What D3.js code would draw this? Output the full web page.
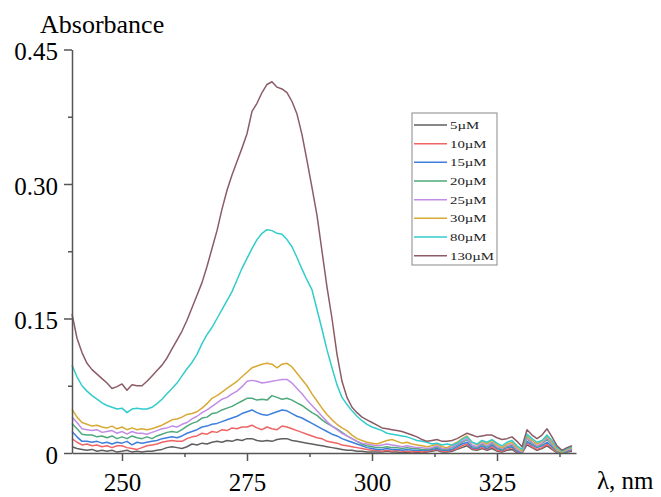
<!DOCTYPE html>
<meta charset="utf-8">
<style>
body { margin: 0; background: white; }
svg { display: block; font-family: "Liberation Serif", "Times New Roman", serif; }
.axis path, .axis line { stroke: #555; stroke-width: 1.5px; }
.axis text { font-size: 25px; fill: #000; font-family: "Liberation Serif", "Times New Roman", serif; }
.series { fill: none; stroke-width: 1.5px; stroke-linejoin: round; }
.legend text { font-size: 11px; fill: #222; }
</style>
<body>
<svg width="661" height="497"></svg>
</body>
<script src="https://cdn.jsdelivr.net/npm/d3@7"></script>
<script>

// wavelength grid of the spectra (nm), 1 nm step
var wavelengths = d3.range(240, 341, 1);

var concentrations = ["5\u00b5M", "10\u00b5M", "15\u00b5M", "20\u00b5M", "25\u00b5M", "30\u00b5M", "80\u00b5M", "130\u00b5M"];
var colors = ["#5f5f5f", "#ef6464", "#3f7fdc", "#4ea97c", "#c28de6", "#d8aa34", "#33cccc", "#8c5c66"];

// absorbance readings, 240..340 nm
var abs5 = [
  0.007,0.005,0.004,0.003,0.004,0.002,0.003,0.002,0.003,0.001,
  0.002,0.003,0.001,0.002,0.001,0.002,0.002,0.003,0.004,0.006,
  0.007,0.006,0.005,0.007,0.010,0.009,0.011,0.010,0.012,0.013,
  0.012,0.014,0.013,0.015,0.014,0.016,0.016,0.014,0.013,0.014,
  0.013,0.015,0.016,0.016,0.014,0.013,0.012,0.011,0.010,0.009,
  0.008,0.007,0.006,0.005,0.004,0.003,0.003,0.002,0.002,0.001,
  0.001,0.001,0.001,0.002,0.001,0.001,0.000,0.001,0.000,0.001,
  0.000,0.001,0.002,0.003,0.001,0.001,0.002,0.004,0.006,0.008,
  0.004,0.003,0.005,0.003,0.005,0.002,0.001,0.003,0.004,0.000,
  0.000,0.009,0.006,0.003,0.005,0.008,0.004,0.000,0.000,0.001,
  0.002];
var abs10 = [
  0.016,0.012,0.009,0.010,0.008,0.009,0.007,0.008,0.006,0.008,
  0.008,0.006,0.005,0.004,0.006,0.008,0.009,0.010,0.012,0.013,
  0.014,0.013,0.013,0.016,0.018,0.019,0.022,0.021,0.024,0.023,
  0.026,0.025,0.028,0.027,0.029,0.029,0.031,0.028,0.026,0.029,
  0.027,0.026,0.030,0.029,0.027,0.025,0.023,0.021,0.019,0.017,
  0.016,0.013,0.012,0.011,0.009,0.008,0.007,0.006,0.005,0.004,
  0.003,0.003,0.002,0.003,0.002,0.003,0.002,0.002,0.001,0.002,
  0.001,0.002,0.003,0.004,0.002,0.002,0.003,0.005,0.008,0.010,
  0.005,0.004,0.006,0.004,0.007,0.003,0.002,0.004,0.006,0.001,
  0.000,0.011,0.007,0.004,0.006,0.010,0.005,0.001,0.000,0.002,
  0.003];
var abs15 = [
  0.024,0.018,0.013,0.013,0.012,0.013,0.011,0.012,0.010,0.012,
  0.011,0.013,0.009,0.012,0.011,0.012,0.013,0.014,0.016,0.017,
  0.018,0.017,0.019,0.022,0.024,0.026,0.029,0.030,0.032,0.033,
  0.035,0.037,0.039,0.041,0.044,0.046,0.048,0.045,0.043,0.042,
  0.044,0.046,0.048,0.047,0.044,0.041,0.039,0.036,0.033,0.030,
  0.027,0.024,0.021,0.019,0.016,0.014,0.012,0.010,0.008,0.006,
  0.005,0.004,0.004,0.005,0.004,0.004,0.003,0.004,0.003,0.003,
  0.003,0.003,0.004,0.005,0.003,0.003,0.004,0.007,0.010,0.012,
  0.006,0.005,0.008,0.005,0.009,0.005,0.003,0.006,0.007,0.002,
  0.000,0.013,0.009,0.006,0.008,0.012,0.007,0.002,0.000,0.002,
  0.004];
var abs20 = [
  0.033,0.027,0.021,0.020,0.020,0.018,0.019,0.017,0.019,0.016,
  0.018,0.016,0.019,0.017,0.016,0.018,0.016,0.019,0.021,0.023,
  0.024,0.023,0.026,0.030,0.033,0.035,0.039,0.040,0.044,0.045,
  0.048,0.050,0.052,0.055,0.058,0.061,0.061,0.059,0.060,0.059,
  0.064,0.062,0.060,0.061,0.059,0.056,0.053,0.049,0.045,0.042,
  0.037,0.033,0.030,0.027,0.023,0.019,0.016,0.013,0.010,0.008,
  0.007,0.006,0.006,0.007,0.006,0.006,0.005,0.006,0.005,0.005,
  0.004,0.004,0.005,0.007,0.004,0.004,0.006,0.009,0.012,0.015,
  0.008,0.006,0.010,0.007,0.011,0.006,0.004,0.007,0.009,0.003,
  0.001,0.016,0.011,0.007,0.010,0.015,0.009,0.002,0.000,0.003,
  0.005];
var abs25 = [
  0.040,0.034,0.027,0.026,0.025,0.026,0.023,0.024,0.025,0.022,
  0.024,0.021,0.024,0.022,0.022,0.021,0.023,0.025,0.027,0.028,
  0.030,0.029,0.032,0.034,0.038,0.041,0.045,0.048,0.052,0.056,
  0.060,0.062,0.066,0.069,0.074,0.080,0.081,0.080,0.078,0.079,
  0.080,0.081,0.082,0.082,0.078,0.072,0.066,0.059,0.053,0.047,
  0.041,0.035,0.030,0.026,0.022,0.019,0.016,0.013,0.011,0.010,
  0.009,0.008,0.009,0.010,0.009,0.008,0.007,0.008,0.007,0.006,
  0.006,0.005,0.006,0.008,0.005,0.005,0.007,0.010,0.013,0.016,
  0.009,0.007,0.011,0.008,0.012,0.007,0.005,0.008,0.010,0.004,
  0.001,0.017,0.012,0.008,0.011,0.017,0.010,0.003,0.001,0.003,
  0.005];
var abs30 = [
  0.049,0.040,0.034,0.032,0.030,0.031,0.029,0.028,0.030,0.027,
  0.029,0.026,0.028,0.026,0.027,0.026,0.027,0.029,0.031,0.034,
  0.037,0.038,0.040,0.043,0.044,0.046,0.050,0.055,0.061,0.064,
  0.068,0.072,0.076,0.080,0.085,0.090,0.095,0.097,0.099,0.100,
  0.099,0.095,0.099,0.100,0.096,0.089,0.082,0.075,0.066,0.058,
  0.050,0.043,0.037,0.032,0.028,0.025,0.020,0.016,0.014,0.012,
  0.011,0.010,0.012,0.014,0.015,0.013,0.011,0.012,0.010,0.009,
  0.008,0.007,0.008,0.010,0.007,0.006,0.009,0.012,0.016,0.019,
  0.012,0.009,0.013,0.010,0.014,0.009,0.006,0.010,0.012,0.006,
  0.002,0.019,0.014,0.010,0.013,0.019,0.012,0.004,0.001,0.004,
  0.006];
var abs80 = [
  0.098,0.085,0.075,0.069,0.064,0.060,0.056,0.053,0.051,0.049,
  0.050,0.045,0.049,0.050,0.049,0.049,0.051,0.055,0.060,0.066,
  0.072,0.078,0.086,0.094,0.101,0.110,0.122,0.132,0.140,0.150,
  0.160,0.170,0.180,0.193,0.206,0.217,0.228,0.238,0.245,0.249,
  0.248,0.245,0.244,0.238,0.230,0.218,0.205,0.193,0.182,0.160,
  0.138,0.115,0.095,0.076,0.062,0.054,0.047,0.041,0.036,0.032,
  0.029,0.027,0.025,0.022,0.021,0.020,0.019,0.018,0.016,0.014,
  0.013,0.012,0.010,0.011,0.009,0.010,0.009,0.011,0.015,0.018,
  0.012,0.010,0.014,0.012,0.015,0.011,0.008,0.012,0.014,0.008,
  0.004,0.021,0.016,0.012,0.014,0.020,0.014,0.006,0.002,0.005,
  0.007];
var abs130 = [
  0.155,0.128,0.112,0.100,0.093,0.088,0.083,0.078,0.072,0.074,
  0.077,0.070,0.076,0.075,0.075,0.080,0.086,0.092,0.098,0.106,
  0.116,0.126,0.136,0.148,0.162,0.176,0.190,0.208,0.228,0.248,
  0.272,0.293,0.310,0.325,0.340,0.356,0.381,0.390,0.402,0.411,
  0.414,0.408,0.406,0.402,0.392,0.378,0.355,0.326,0.296,0.265,
  0.225,0.185,0.150,0.110,0.080,0.062,0.051,0.045,0.040,0.037,
  0.034,0.031,0.028,0.027,0.026,0.025,0.024,0.022,0.020,0.018,
  0.015,0.013,0.014,0.015,0.013,0.013,0.014,0.016,0.019,0.022,
  0.020,0.018,0.019,0.020,0.020,0.017,0.015,0.016,0.018,0.013,
  0.007,0.026,0.020,0.016,0.020,0.027,0.018,0.008,0.003,0.006,
  0.008];

var xMajor = [250, 275, 300, 325];
var xMinor = [262.5, 287.5, 312.5, 337.5];
var yMajor = [0, 0.15, 0.30, 0.45];
var yMinor = [0.075, 0.225, 0.375];

var allSeries = [abs5, abs10, abs15, abs20, abs25, abs30, abs80, abs130];

var svg = d3.select("svg");

var x = d3.scaleLinear().domain([240, 340.8]).range([72, 576]);
var y = d3.scaleLinear().domain([0, 0.45]).range([453, 49.5]);

// spectra
var line = d3.line()
  .x(function(d, i) { return x(wavelengths[i]); })
  .y(function(d) { return y(d); });

svg.append("g")
  .selectAll("path")
  .data(allSeries)
  .enter().append("path")
    .attr("class", "series")
    .attr("d", line)
    .attr("stroke", function(d, i) { return colors[i]; });

// x axis
var gx = svg.append("g")
  .attr("class", "axis")
  .attr("transform", "translate(0," + y(0) + ")")
  .call(d3.axisBottom(x).tickValues(xMajor).tickSize(8).tickSizeOuter(0).tickFormat(d3.format("d")));
gx.selectAll("text").attr("y", 38).attr("dy", 0);

svg.append("g")
  .attr("class", "axis")
  .attr("transform", "translate(0," + y(0) + ")")
  .call(d3.axisBottom(x).tickValues(xMinor).tickSize(4).tickFormat(""))
  .select(".domain").remove();

// y axis
var gy = svg.append("g")
  .attr("class", "axis")
  .attr("transform", "translate(" + x(240) + ",0)")
  .call(d3.axisLeft(y).tickValues(yMajor).tickSize(8).tickSizeOuter(0)
    .tickFormat(function(d) { return d === 0 ? "0" : d3.format(".2f")(d); }));
gy.selectAll("text").attr("x", -14).attr("dy", "0.4em");

svg.append("g")
  .attr("class", "axis")
  .attr("transform", "translate(" + x(240) + ",0)")
  .call(d3.axisLeft(y).tickValues(yMinor).tickSize(4).tickFormat(""))
  .select(".domain").remove();

// axis titles
svg.append("text")
  .attr("x", 40).attr("y", 33)
  .style("font-size", "26px")
  .text("Absorbance");

svg.append("text")
  .attr("x", 597).attr("y", 489)
  .style("font-size", "25px")
  .text("\u03bb, nm");

// legend
var legend = svg.append("g").attr("class", "legend");

legend.append("rect")
  .attr("x", 412).attr("y", 113)
  .attr("width", 85).attr("height", 152)
  .attr("fill", "white")
  .attr("stroke", "#888")
  .attr("stroke-width", 1);

var items = legend.selectAll("g.item")
  .data(concentrations)
  .enter().append("g")
    .attr("class", "item")
    .attr("transform", function(d, i) { return "translate(0," + (125 + i * 18.67) + ")"; });

items.append("line")
  .attr("x1", 414).attr("x2", 447)
  .attr("stroke", function(d, i) { return colors[i]; })
  .attr("stroke-width", 1.5);

// the legend lettering is wide and short in the original
items.append("text")
  .attr("transform", "translate(450,0) scale(1.35,1)")
  .attr("dy", "0.35em")
  .text(function(d) { return d; });

</script>
